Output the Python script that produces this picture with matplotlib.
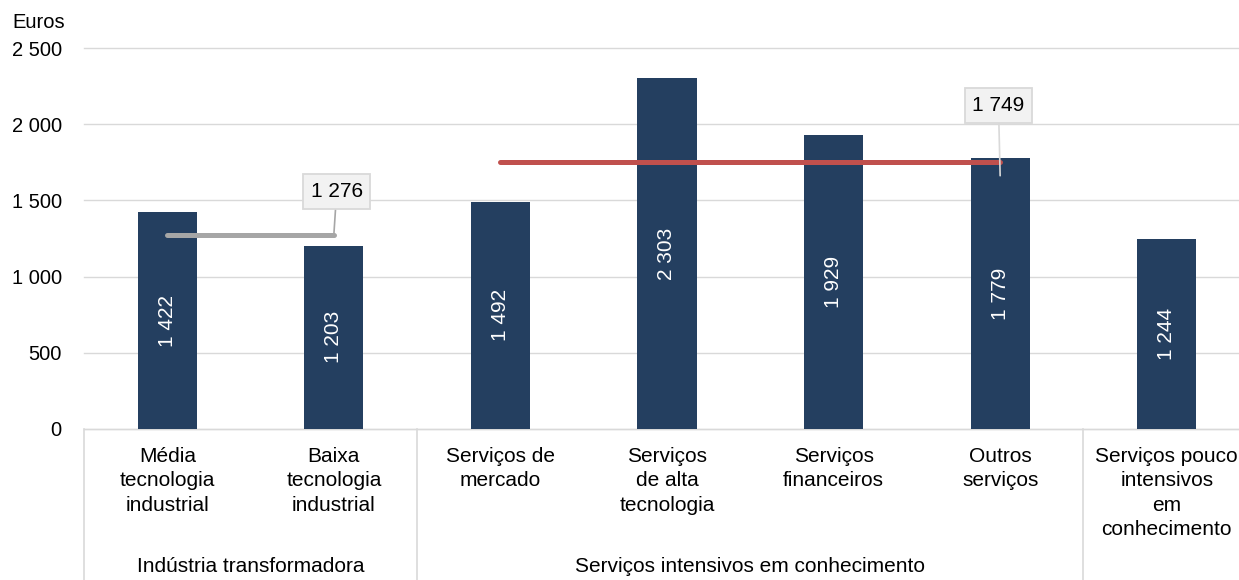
import matplotlib
matplotlib.use("Agg")
import matplotlib.pyplot as plt
import matplotlib.transforms as mtransforms

plt.rcParams['font.family'] = ['Liberation Sans', 'DejaVu Sans']

categories = ["Média\ntecnologia\nindustrial", "Baixa\ntecnologia\nindustrial",
              "Serviços de\nmercado", "Serviços\nde alta\ntecnologia",
              "Serviços\nfinanceiros", "Outros\nserviços",
              "Serviços pouco\nintensivos\nem\nconhecimento"]
values = [1422, 1203, 1492, 2303, 1929, 1779, 1244]
bar_labels = ["1 422", "1 203", "1 492", "2 303", "1 929", "1 779", "1 244"]
groups = ["Indústria transformadora", "Serviços intensivos em conhecimento", ""]
group_spans = [(0, 1), (2, 5), (6, 6)]
avg_industry = 1276
avg_industry_label = "1 276"
avg_services = 1749
avg_services_label = "1 749"
yticks = [0, 500, 1000, 1500, 2000, 2500]
ytick_labels = ["0", "500", "1 000", "1 500", "2 000", "2 500"]

W, H = 1239, 580
fig = plt.figure(figsize=(W / 100, H / 100), dpi=100)
ax = fig.add_axes([84 / W, (H - 429) / H, (1250 - 84) / W, (429 - 48) / H])

FS = 15
x = list(range(len(values)))
bar_color = "#243F60"
ax.bar(x, values, width=0.355, color=bar_color, zorder=2)
for xi, v, lab in zip(x, values, bar_labels):
    ax.text(xi, v / 2, lab, rotation=90, ha="center", va="center",
            color="white", fontsize=FS, zorder=3)

ax.set_xlim(-0.5, len(values) - 0.5)
ax.set_ylim(0, 2500)
ax.set_yticks(yticks)
ax.set_yticklabels(ytick_labels, fontsize=14.5)
ax.tick_params(axis="y", length=0, pad=16)
ax.grid(axis="y", color="#D9D9D9", linewidth=1, zorder=0)
for gl in ax.get_ygridlines():
    gl.set_clip_on(False)
for s in ax.spines.values():
    s.set_visible(False)

ax.set_xticks(x)
ax.set_xticklabels(categories, fontsize=FS, linespacing=1.36, va="top")
ax.tick_params(axis="x", length=0, pad=13)

# average lines
ax.plot([0, 1], [avg_industry, avg_industry], color="#A6A6A6", lw=3.6,
        solid_capstyle="round", zorder=4)
ax.plot([2, 5], [avg_services, avg_services], color="#C0504D", lw=3.6,
        solid_capstyle="round", zorder=4)

box = dict(boxstyle="square,pad=0.37", facecolor="#F2F2F2", edgecolor="#D9D9D9", lw=1.3)
ax.annotate(avg_industry_label, xy=(1, avg_industry), xytext=(1.017, 1558),
            ha="center", va="center", fontsize=FS, bbox=box, zorder=5,
            arrowprops=dict(arrowstyle="-", color="#A6A6A6", lw=1.2, shrinkA=0, shrinkB=0))
ax.annotate(avg_services_label, xy=(5, 1662), xytext=(4.99, 2122),
            ha="center", va="center", fontsize=FS, bbox=box, zorder=5,
            arrowprops=dict(arrowstyle="-", color="#D9D9D9", lw=1.2, shrinkA=0, shrinkB=0))

# baseline and group dividers
trans = mtransforms.blended_transform_factory(ax.transData, ax.transAxes)
ax.plot([-0.5, len(values) - 0.5], [0, 0], color="#D9D9D9", lw=1, clip_on=False, zorder=1)
bottom = -(580 - 429) / (429 - 48)
for b in [-0.5, 1.5, 5.5]:
    ax.plot([b, b], [0, bottom], transform=trans, color="#D9D9D9", lw=1.2, clip_on=False)
for g, (a, b) in zip(groups, group_spans):
    if g:
        ax.text((a + b) / 2, -(566 - 429) / (429 - 48), g, transform=trans,
                ha="center", va="center", fontsize=FS)

fig.text(12 / W, 1 - 22 / H, "Euros", ha="left", va="center", fontsize=14.5)

fig.savefig("out.png", dpi=100)
